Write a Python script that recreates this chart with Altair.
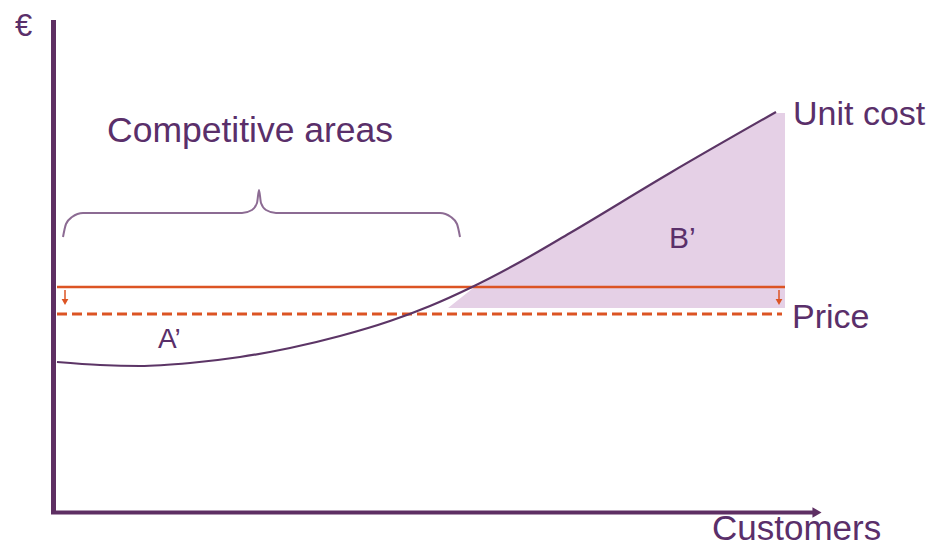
import altair as alt
import pandas as pd

# Unit cost curve (customers vs unit cost, arbitrary units)
cust = [2, 45, 85, 135, 185, 235, 285, 335, 375, 415, 465, 515, 615, 721]
cost = [150, 147, 146, 149, 155, 164, 176, 191, 206, 224, 250, 279, 339, 400]

# Price levels
price_old = 225
price_new = 198
price_start = 2
price_end = 730
dash_end = 727

# Shaded loss area B'
area_x = [393, 417, 465, 515, 615, 721, 730]
area_top = [204, 223, 249, 278, 338, 399, 399]
area_base = 204

# Brace over the competitive areas
brace_x = [8, 11, 17, 28, 187, 197, 202, 204, 206, 211, 221, 385, 396, 402, 405]
brace_y = [275, 288, 295, 299, 299, 302, 309, 322, 309, 302, 299, 299, 295, 288, 275]

# Price drop arrows
arrow_x = [10, 724]
arrow_top = 222
arrow_tip = 210

# Labels
labels = ["€", "Competitive areas", "Unit cost", "Price", "Customers", "A’", "B’"]
label_x = [-40, 52, 738, 737, 657, 103, 614]
label_y = [476, 370, 387, 184, -28, 164, 264]
label_size = [31, 35.5, 34, 34, 35, 28, 30]

PURPLE = "#5e2f63"
CURVE = "#5c3566"
ORANGE = "#dc5424"
SHADE = "#e5d0e6"
BRACE = "#8c6b93"
TEXT = "#5a2f6a"

xs = alt.Scale(domain=[-47, 871], nice=False, zero=False)
ys = alt.Scale(domain=[-37, 504], nice=False, zero=False)

def X(f="x"):
    return alt.X(f"{f}:Q", scale=xs, axis=None)

def Y(f="y"):
    return alt.Y(f"{f}:Q", scale=ys, axis=None)

area = alt.Chart(pd.DataFrame({"x": area_x, "y": area_top, "y2": [area_base] * len(area_x)})).mark_area(
    color=SHADE, opacity=1, interpolate="linear"
).encode(x=X(), y=Y(), y2="y2:Q")

solid = alt.Chart(pd.DataFrame({"x": [price_start], "x2": [price_end], "y": [price_old]})).mark_rule(
    color=ORANGE, strokeWidth=2.5
).encode(x=X(), x2="x2:Q", y=Y())

dashed = alt.Chart(pd.DataFrame({"x": [price_start], "x2": [dash_end], "y": [price_new]})).mark_rule(
    color=ORANGE, strokeWidth=3, strokeDash=[10, 5]
).encode(x=X(), x2="x2:Q", y=Y())

arrow_df = pd.DataFrame({"x": arrow_x, "y": [arrow_top] * 2, "y2": [arrow_tip + 2] * 2})
arrow_shaft = alt.Chart(arrow_df).mark_rule(color=ORANGE, strokeWidth=1.5).encode(x=X(), y=Y(), y2="y2:Q")
arrow_head = alt.Chart(pd.DataFrame({"x": arrow_x, "y": [arrow_tip] * 2})).mark_point(
    shape="triangle-down", filled=True, color=ORANGE, size=45, opacity=1
).encode(x=X(), y=Y())

curve = alt.Chart(pd.DataFrame({"x": cust, "y": cost})).mark_line(
    color=CURVE, strokeWidth=2.2, interpolate="monotone"
).encode(x=X(), y=Y())

brace = alt.Chart(pd.DataFrame({"x": brace_x, "y": brace_y, "o": list(range(len(brace_x)))})).mark_line(
    color=BRACE, strokeWidth=2, interpolate="monotone"
).encode(x=X(), y=Y(), order="o:Q")

yaxis = alt.Chart(pd.DataFrame({"x": [-1.5], "y": [-1.5], "y2": [492]})).mark_rule(
    color=PURPLE, strokeWidth=5
).encode(x=X(), y=Y(), y2="y2:Q")
xaxis = alt.Chart(pd.DataFrame({"x": [-4], "x2": [758], "y": [-0.5]})).mark_rule(
    color=PURPLE, strokeWidth=4
).encode(x=X(), x2="x2:Q", y=Y())
xhead = alt.Chart(pd.DataFrame({"x": [762], "y": [-0.5]})).mark_point(
    shape="triangle-right", filled=True, color=PURPLE, size=110, opacity=1
).encode(x=X(), y=Y())

text = alt.Chart(pd.DataFrame({"x": label_x, "y": label_y, "t": labels, "s": label_size})).mark_text(
    align="left", baseline="alphabetic", font="Liberation Sans", color=TEXT
).encode(x=X(), y=Y(), text="t:N", size=alt.Size("s:Q", scale=None, legend=None))

chart = alt.layer(area, solid, dashed, arrow_shaft, arrow_head, curve, brace, yaxis, xaxis, xhead, text).properties(
    width=918, height=541, padding=0, autosize=alt.AutoSizeParams(type="none")
).configure_view(stroke=None)

chart.save("out.html", embed_options={"renderer": "svg", "actions": False})
